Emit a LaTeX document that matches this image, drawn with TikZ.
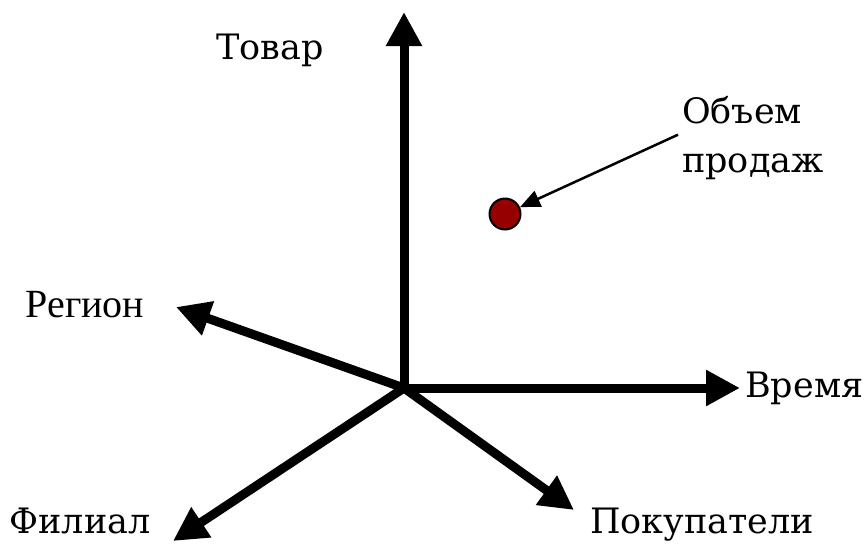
\documentclass[tikz,border=0pt]{standalone}
\usepackage{fontspec}
\setmainfont{DejaVu Serif}
\newfontfamily\timesfont{Liberation Serif}
\usetikzlibrary{arrows.meta}
\begin{document}
\begin{tikzpicture}[x=1pt,y=-1pt,
  axis/.style={line width=9pt, -{Triangle[length=34pt,width=34pt]}},
  lbl/.style={font=\fontsize{35}{49}\selectfont, inner sep=0pt, anchor=base}]
\useasboundingbox (0,0) rectangle (864,544);

\coordinate (o) at (404,388);
\coordinate (up) at (404,12);
\coordinate (right) at (740,388);
\coordinate (region) at (176,307);
\coordinate (filial) at (173,541);
\coordinate (cust) at (574,510);

\draw[axis] (o) -- (up);
\draw[axis] (o) -- (right);
\draw[axis] (o) -- (region);
\draw[axis] (o) -- (filial);
\draw[axis] (o) -- (cust);

\node[lbl] (tovar) at (270,59) {Товар};
\node[lbl, anchor=base west] (vremya) at (745,397) {Время};
\node[lbl, font=\timesfont\fontsize{40}{48}\selectfont] (reg) at (85,317) {Регион};
\node[lbl] (fil) at (80,533) {Филиал};
\node[lbl] (pok) at (702,533) {Покупатели};
\node[lbl, anchor=base west] (sales) at (682,123) {Объем};
\node[lbl, anchor=base west] (sales2) at (682,172) {продаж};

\node[circle, draw=black, line width=2pt, fill={rgb,255:red,150;green,0;blue,0}, minimum size=31pt, inner sep=0pt] (dot) at (505,214) {};
\draw[line width=2.5pt, -{Triangle[length=20pt,width=17pt]}] (sales.south west) ++(-4,11) -- (dot);
\end{tikzpicture}
\end{document}
